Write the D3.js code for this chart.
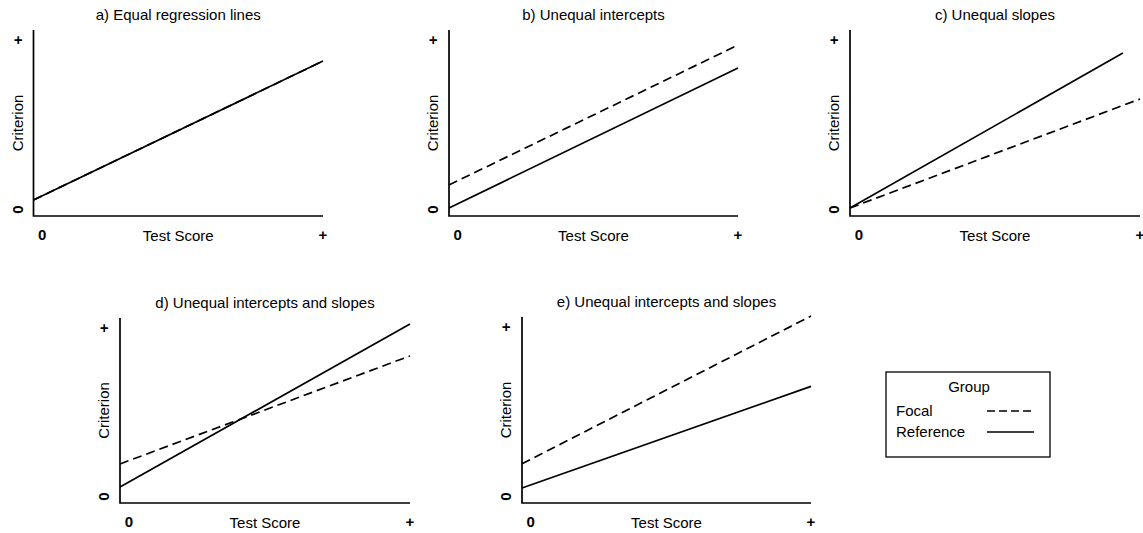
<!DOCTYPE html>
<html>
<head>
<meta charset="utf-8">
<script src="https://cdn.jsdelivr.net/npm/d3@7"></script>
<style>
  html, body { margin: 0; padding: 0; background: #fff; }
  svg { display: block; font-family: "Liberation Sans", Arial, sans-serif; }
</style>
</head>
<body>
<svg id="chart" width="1143" height="533"></svg>
<script>
// ---- data ----
const panelTitles = [
  "a) Equal regression lines",
  "b) Unequal intercepts",
  "c) Unequal slopes",
  "d) Unequal intercepts and slopes",
  "e) Unequal intercepts and slopes"
];
// Reference group line: criterion at test score 0 and at the end point
const refStartY = [0.86, 0.43, 0.43, 0.86, 0.81];
const refEndX   = [10, 10, 9.41, 10, 10];
const refEndY   = [8.33, 7.96, 8.76, 9.68, 6.27];
// Focal group line
const focStartY = [0.86, 1.67, 0.43, 2.11, 2.11];
const focEndX   = [10, 10, 10, 10, 10];
const focEndY   = [8.33, 9.19, 6.29, 7.95, 10.05];
// axis ticks
const xTickVals = [0.2, 10];
const yTickVals = [0.35, 9.45];
const tickLabels = ["0", "+"];
const xDomain = [0, 10];
const yDomain = [0, 10];
const xAxisTitle = "Test Score";
const yAxisTitle = "Criterion";
const legendTitle = "Group";
const groups = ["Focal", "Reference"];

// ---- layout (pixel frames of each panel's axes) ----
const frames = [
  {x0: 33.5, x1: 323, yb: 216, yt: 30},
  {x0: 449, x1: 738, yb: 216, yt: 30},
  {x0: 850, x1: 1140, yb: 216, yt: 30},
  {x0: 120, x1: 410, yb: 503, yt: 318},
  {x0: 522, x1: 811, yb: 503, yt: 317}
];

const svg = d3.select("#chart");
const FONT = 15;
const dash = "9,5";

panelTitles.forEach((title, i) => {
  const f = frames[i];
  const x = d3.scaleLinear().domain(xDomain).range([f.x0, f.x1]);
  const y = d3.scaleLinear().domain(yDomain).range([f.yb, f.yt]);
  const g = svg.append("g");

  // L-shaped axes
  g.append("path")
    .attr("d", `M${x(0)},${y(10)}V${y(0)}H${x(10)}`)
    .attr("fill", "none").attr("stroke", "#000").attr("stroke-width", 1.7);

  // title
  g.append("text")
    .attr("x", (x(0) + x(10)) / 2).attr("y", f.yt - 10)
    .attr("text-anchor", "middle").attr("font-size", FONT)
    .text(title);

  // x tick labels
  xTickVals.forEach((v, k) => {
    g.append("text")
      .attr("x", x(v) + (k === 0 ? 3 : 0)).attr("y", y(0) + 24)
      .attr("text-anchor", "middle").attr("font-size", FONT).attr("font-weight", "bold")
      .text(tickLabels[k]);
  });
  // y tick labels (rotated)
  yTickVals.forEach((v, k) => {
    const tx = x(0) - 11, ty = y(v);
    g.append("text")
      .attr("transform", `translate(${tx},${ty}) rotate(-90)`)
      .attr("text-anchor", "middle").attr("font-size", FONT).attr("font-weight", "bold")
      .text(tickLabels[k]);
  });

  // axis titles
  g.append("text")
    .attr("x", (x(0) + x(10)) / 2).attr("y", y(0) + 25)
    .attr("text-anchor", "middle").attr("font-size", FONT)
    .text(xAxisTitle);
  g.append("text")
    .attr("transform", `translate(${x(0) - 11},${(y(0) + y(10)) / 2}) rotate(-90)`)
    .attr("text-anchor", "middle").attr("font-size", FONT)
    .text(yAxisTitle);

  const line = d3.line().x(d => x(d[0])).y(d => y(d[1]));
  // focal (dashed)
  g.append("path")
    .attr("d", line([[0, focStartY[i]], [focEndX[i], focEndY[i]]]))
    .attr("fill", "none").attr("stroke", "#000").attr("stroke-width", 1.7)
    .attr("stroke-dasharray", dash);
  // reference (solid)
  g.append("path")
    .attr("d", line([[0, refStartY[i]], [refEndX[i], refEndY[i]]]))
    .attr("fill", "none").attr("stroke", "#000").attr("stroke-width", 1.7);
});

// legend
const lg = svg.append("g");
lg.append("rect").attr("x", 886).attr("y", 372).attr("width", 164).attr("height", 85)
  .attr("fill", "#fff").attr("stroke", "#000").attr("stroke-width", 1.3);
lg.append("text").attr("x", 969).attr("y", 392).attr("text-anchor", "middle")
  .attr("font-size", FONT).text(legendTitle);
groups.forEach((name, k) => {
  const yy = 411 + k * 21;
  lg.append("text").attr("x", 896).attr("y", yy + 5).attr("font-size", FONT).text(name);
  lg.append("line").attr("x1", 987).attr("x2", 1034).attr("y1", yy).attr("y2", yy)
    .attr("stroke", "#000").attr("stroke-width", 1.5)
    .attr("stroke-dasharray", k === 0 ? "8,4" : null);
});
</script>
</body>
</html>
